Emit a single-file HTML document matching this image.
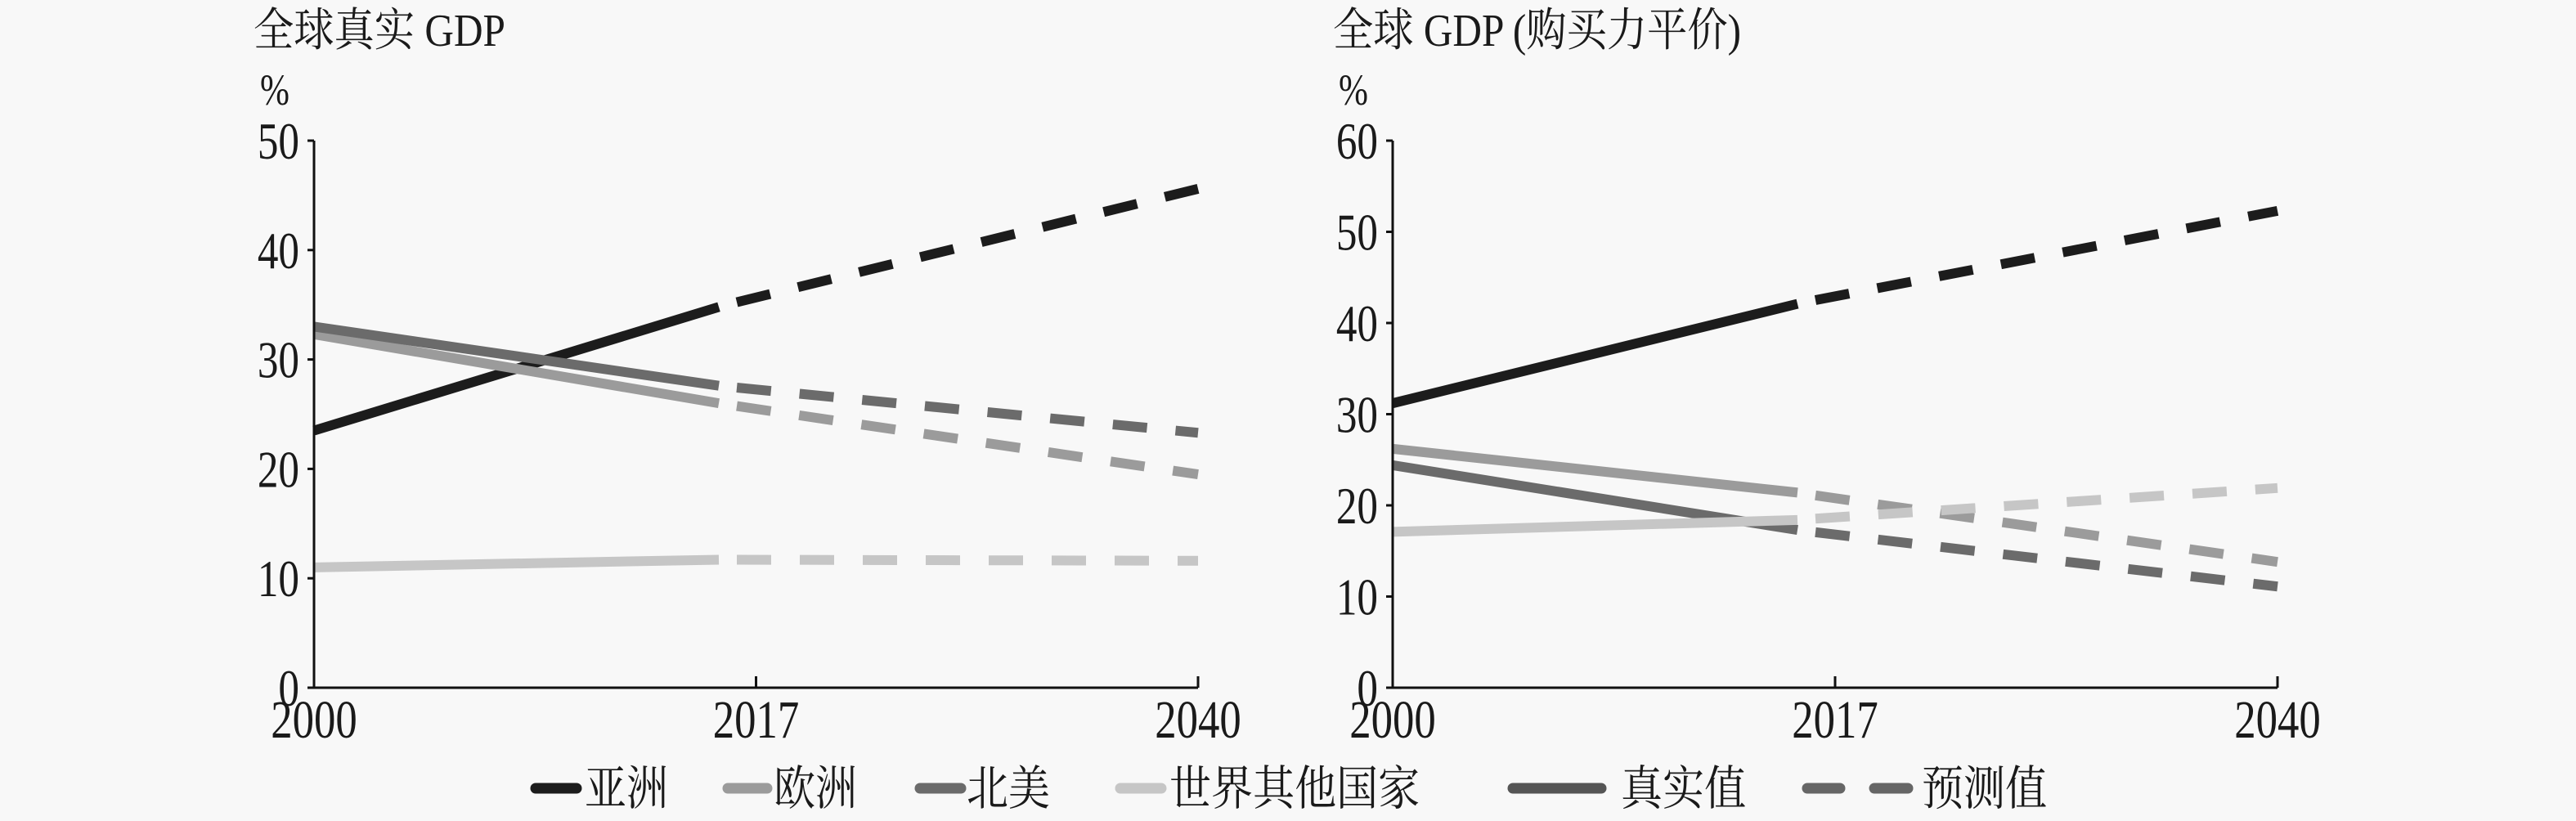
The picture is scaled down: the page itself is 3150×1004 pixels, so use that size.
<!DOCTYPE html>
<html><head><meta charset="utf-8"><style>
html,body{margin:0;padding:0;background:#f8f8f8;}
svg{display:block;font-family:"Liberation Serif","Noto Serif CJK SC",serif;}
</style></head><body>
<svg width="3150" height="1004" viewBox="0 0 3150 1004">
<rect width="3150" height="1004" fill="#f8f8f8"/>
<g id="root"></g>
</svg>
<script>
const categories = ["2000","2017","2040"];
const seriesNames = ["亚洲","欧洲","北美","世界其他国家"];
const leftAsia = [23.5, 34.8, 45.6];
const leftEurope = [32.3, 26.0, 19.5];
const leftNA = [33.0, 27.6, 23.3];
const leftRest = [11.0, 11.7, 11.6];
const rightAsia = [31.2, 42.1, 52.3];
const rightEurope = [26.2, 21.4, 13.8];
const rightNA = [24.4, 17.3, 11.1];
const rightRest = [17.1, 18.4, 21.9];
const leftTicks = [0,10,20,30,40,50];
const rightTicks = [0,10,20,30,40,50,60];
const colors = ["#1c1c1c","#9b9b9b","#6b6b6b","#c6c6c6"];
const NS="http://www.w3.org/2000/svg";
const root=document.getElementById('root');
function mk(tag,attrs,parent){const e=document.createElementNS(NS,tag);for(const k in attrs)e.setAttribute(k,attrs[k]);(parent||root).appendChild(e);return e;}
function txt(parent,x,y,str,size,sx,anchor){
  const t=mk('text',{x:0,y:0,'font-size':size,fill:'#1a1a1a','text-anchor':anchor||'start',transform:`translate(${x},${y}) scale(${sx},1)`},parent);
  t.textContent=str;return t;
}

function chart(cfg){
  const g=mk('g',{});
  
  
  const yTop=172,yBot=841;
  const y=v=>yBot-(v/cfg.max)*(yBot-yTop);
  const frac=[0,cfg.solidFrac,1];
  const x=i=>cfg.x0+frac[i]*(cfg.x1-cfg.x0);
  const tickX=[cfg.x0,cfg.x0+(cfg.x1-cfg.x0)/2,cfg.x1];
  let t=txt(g,cfg.titleX,56,cfg.title,56,0.88);
  
  
  t=txt(g,cfg.x0-66,128,'%',54,0.8);
  
  
  cfg.series.forEach((vals,si)=>{
    const p1=mk('line',{x1:x(0),y1:y(vals[0]),x2:x(1),y2:y(vals[1]),stroke:colors[si],'stroke-width':12},g);
    
    
    const p2=mk('line',{x1:x(1)+22,y1:y(vals[1]+(vals[2]-vals[1])*0.04),x2:x(2),y2:y(vals[2]),stroke:colors[si],'stroke-width':12,'stroke-dasharray':'42 35'},g);
    
    
  });
  const ax=mk('path',{d:`M${cfg.x0} ${yTop}V${yBot}H${cfg.x1}`,stroke:'#111','stroke-width':3,fill:'none'},g);
  
  
  cfg.ticks.forEach(v=>{
    mk('line',{x1:cfg.x0-8,x2:cfg.x0,y1:y(v),y2:y(v),stroke:'#111','stroke-width':3},g);
    const l=txt(g,cfg.x0-18,y(v)+22,String(v),64,0.8,'end');
    
    
  });
  categories.forEach((c,i)=>{
    mk('line',{x1:tickX[i],x2:tickX[i],y1:yBot,y2:yBot-14,stroke:'#111','stroke-width':3},g);
    const l=txt(g,tickX[i],902,c,66,0.8,'middle');
    
    
  });
}
chart({name:'real-gdp-chart',title:'全球真实 GDP',titleX:310,x0:384,x1:1465,solidFrac:(879-384)/(1465-384),max:50,ticks:leftTicks,series:[leftAsia,leftEurope,leftNA,leftRest]});
chart({name:'ppp-gdp-chart',title:'全球 GDP (购买力平价)',titleX:1630,x0:1703,x1:2785,solidFrac:(2198-1703)/(2785-1703),max:60,ticks:rightTicks,series:[rightAsia,rightEurope,rightNA,rightRest]});

const lg=mk('g',{});


const sw=[[655,705,715],[890,938,946],[1125,1175,1182],[1370,1420,1430]];
seriesNames.forEach((n,i)=>{
  const e=mk('g',{},lg);
  
  
  mk('line',{x1:sw[i][0],x2:sw[i][1],y1:964,y2:964,stroke:colors[i],'stroke-width':13,'stroke-linecap':'round'},e);
  txt(e,sw[i][2],984,n,58,0.88);
});
let e=mk('g',{},lg);


mk('line',{x1:1850,x2:1958,y1:964,y2:964,stroke:'#555','stroke-width':13,'stroke-linecap':'round'},e);
txt(e,1982,984,'真实值',58,0.88);
e=mk('g',{},lg);


mk('line',{x1:2210,x2:2250,y1:964,y2:964,stroke:'#666','stroke-width':13,'stroke-linecap':'round'},e);
mk('line',{x1:2292,x2:2333,y1:964,y2:964,stroke:'#666','stroke-width':13,'stroke-linecap':'round'},e);
txt(e,2350,984,'预测值',58,0.88);
</script>
</body></html>
